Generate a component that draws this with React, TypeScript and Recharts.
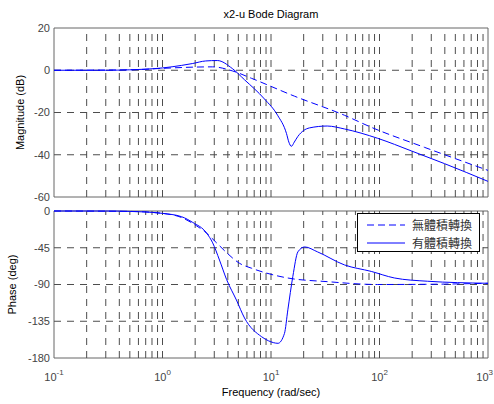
import { LineChart, Line, XAxis, YAxis, ReferenceLine, ReferenceArea, Legend } from "recharts";

// frequency (rad/sec) and values
const magFreqA = [0.1, 0.5, 1, 2, 2.9, 4.4, 6.6, 16.5, 47.5, 84, 260, 1000];
const magA = [0, 0.2, 0.9, 1.5, 1.6, -0.3, -3.8, -12.3, -21.3, -27, -36.5, -47.4];

const magFreqB = [0.1, 0.3, 0.5, 0.7, 1, 1.5, 1.9, 2.5, 3.2, 4.4, 5.7, 8.7, 11.5, 13.9, 14.6, 15.4, 16.4, 17.7, 22.6, 33, 47.6, 96, 197, 397, 1000];
const magB = [0, 0, 0.2, 0.5, 1.1, 2.3, 3.2, 4.4, 4.6, 0.8, -4.5, -13.6, -21.3, -30, -34, -36, -34, -31.3, -27.3, -26.4, -27.8, -32.2, -38.2, -44.2, -52.6];

const phFreqA = [0.1, 0.5, 1, 1.5, 2.05, 2.44, 3.15, 3.97, 5.12, 6.6, 14.2, 33, 96, 397, 1000];
const phA = [0, -0.5, -2.9, -8, -18, -25, -39, -52, -64, -70, -82, -86.5, -90, -89.5, -88.5];

const phFreqB = [0.1, 0.3, 0.5, 0.7, 1, 1.5, 1.9, 2.55, 2.9, 3.35, 3.9, 4.8, 5.7, 8.2, 9.5, 11.6, 13.3, 14.3, 15.9, 17.7, 20.4, 26.8, 47.5, 84, 137, 276, 1000];
const phB = [0, 0, -0.5, -1.2, -2.9, -7, -14, -27, -39, -60, -84, -109, -131, -154, -159, -162, -150, -121, -80, -50, -44, -50, -66, -74, -82, -86, -88.5];

const seriesNames = ["無體積轉換", "有體積轉換"];
const freqTicks = [0.1, 1, 10, 100, 1000];
const magTicks = [-60, -40, -20, 0, 20];
const phaseTicks = [-180, -135, -90, -45, 0];

const zip = (xs: number[], ys: number[]) => xs.map((f, i) => ({ f, v: ys[i] }));

const gridFreqs: number[] = [];
[0.1, 1, 10, 100].forEach((d) => {
  for (let k = 1; k <= 9; k++) if (!(d === 0.1 && k === 1)) gridFreqs.push(+(d * k).toPrecision(3));
});

const BLUE = "#0000ff";
const GRID = "#4d4d4d";
const DASH = "7 6";
const FONT = '"Liberation Sans", Arial, sans-serif';

const FreqTick = (props: any) => {
  const { x, y, payload } = props;
  const exp = Math.round(Math.log10(payload.value));
  // last label sits on the page edge; pull it in so it stays whole
  const last = exp === 3;
  return (
    <text x={last ? 493 : x} y={y + 21} textAnchor={last ? "end" : "middle"} fontSize={11} fill="#444" fontFamily={FONT}>
      <tspan>10</tspan>
      <tspan dy={-6} fontSize={8}>{exp}</tspan>
    </text>
  );
};

const LegendBox = () => (
  <div
    style={{
      width: 123,
      height: 39,
      boxSizing: "border-box",
      border: "1px solid #000",
      background: "#fff",
      fontFamily: '"Noto Sans CJK TC", sans-serif',
      fontSize: 12,
      color: "#333",
      position: "relative",
    }}
  >
    {seriesNames.map((name, i) => (
      <div key={name} style={{ position: "absolute", left: 9, top: 2 + i * 18, height: 18, display: "flex", alignItems: "center" }}>
        <svg width={40} height={10}>
          <line x1={0} y1={5} x2={38} y2={5} stroke={BLUE} strokeWidth={1} strokeDasharray={i === 0 ? "7 4" : undefined} />
        </svg>
        <span style={{ marginLeft: 5, lineHeight: "18px" }}>{name}</span>
      </div>
    ))}
  </div>
);

export default function App() {
  return (
    <div style={{ position: "absolute", left: 0, top: 0, width: 494, height: 404, background: "#fff", fontFamily: FONT }}>
      <div style={{ position: "absolute", left: 54, width: 434, top: 8, textAlign: "center", fontSize: 11, color: "#000" }}>
        x2-u Bode Diagram
      </div>

      <div style={{ position: "absolute", left: 0, top: 200 }}>
        <LineChart width={494} height={204} margin={{ top: 11, right: 6, left: 8, bottom: 6 }}>
          <XAxis
            dataKey="f"
            type="number"
            scale="log"
            domain={[0.1, 1000]}
            ticks={freqTicks}
            interval={0}
            allowDataOverflow
            height={40}
            tickLine={false}
            axisLine={false}
            tickSize={0}
            tick={<FreqTick />}
            label={{ value: "Frequency  (rad/sec)", position: "insideBottom", offset: 2, style: { fontSize: 11, fill: "#000", fontFamily: FONT, whiteSpace: "pre" } }}
          />
          <YAxis
            type="number"
            domain={[-180, 0]}
            ticks={phaseTicks}
            interval={0}
            width={46}
            tickLine={false}
            axisLine={false}
            tickSize={0}
            tickMargin={4}
            tick={{ fontSize: 11, fill: "#444", fontFamily: FONT }}
            label={{ value: "Phase (deg)", angle: -90, position: "insideLeft", offset: 4, style: { textAnchor: "middle", fontSize: 11, fill: "#000", fontFamily: FONT } }}
          />
          {gridFreqs.map((g) => (
            <ReferenceLine key={"v" + g} x={g} stroke={GRID} strokeDasharray={DASH} />
          ))}
          {[-135, -90, -45].map((g) => (
            <ReferenceLine key={"h" + g} y={g} stroke={GRID} strokeDasharray={DASH} />
          ))}
          <ReferenceArea x1={0.1} x2={1000} y1={-180} y2={0} stroke="#666" strokeWidth={1} fill="none" fillOpacity={0} />
          <Line data={zip(phFreqA, phA)} dataKey="v" type="monotone" stroke={BLUE} strokeWidth={1} strokeDasharray="7 4" dot={false} isAnimationActive={false} name={seriesNames[0]} />
          <Line data={zip(phFreqB, phB)} dataKey="v" type="monotone" stroke={BLUE} strokeWidth={1} dot={false} isAnimationActive={false} name={seriesNames[1]} />
          <Legend
            layout="vertical"
            align="center"
            verticalAlign="middle"
            content={() => <LegendBox />}
            wrapperStyle={{ position: "absolute", left: 357, top: 13, width: 123, height: 39 }}
          />
        </LineChart>
      </div>

      <div style={{ position: "absolute", left: 0, top: 0 }}>
        <LineChart width={494} height={206} margin={{ top: 28, right: 6, left: 8, bottom: 9 }}>
          <XAxis dataKey="f" type="number" scale="log" domain={[0.1, 1000]} ticks={freqTicks} allowDataOverflow hide />
          <YAxis
            type="number"
            domain={[-60, 20]}
            ticks={magTicks}
            interval={0}
            width={46}
            tickLine={false}
            axisLine={false}
            tickSize={0}
            tickMargin={4}
            tick={{ fontSize: 11, fill: "#444", fontFamily: FONT }}
            label={{ value: "Magnitude (dB)", angle: -90, position: "insideLeft", offset: 12, style: { textAnchor: "middle", fontSize: 11, fill: "#000", fontFamily: FONT } }}
          />
          {gridFreqs.map((g) => (
            <ReferenceLine key={"v" + g} x={g} stroke={GRID} strokeDasharray={DASH} />
          ))}
          {[-40, -20, 0].map((g) => (
            <ReferenceLine key={"h" + g} y={g} stroke={GRID} strokeDasharray={DASH} />
          ))}
          <ReferenceArea x1={0.1} x2={1000} y1={-60} y2={20} stroke="#666" strokeWidth={1} fill="none" fillOpacity={0} />
          <Line data={zip(magFreqA, magA)} dataKey="v" type="monotone" stroke={BLUE} strokeWidth={1} strokeDasharray="7 4" dot={false} isAnimationActive={false} name={seriesNames[0]} />
          <Line data={zip(magFreqB, magB)} dataKey="v" type="monotone" stroke={BLUE} strokeWidth={1} dot={false} isAnimationActive={false} name={seriesNames[1]} />
        </LineChart>
      </div>
    </div>
  );
}
